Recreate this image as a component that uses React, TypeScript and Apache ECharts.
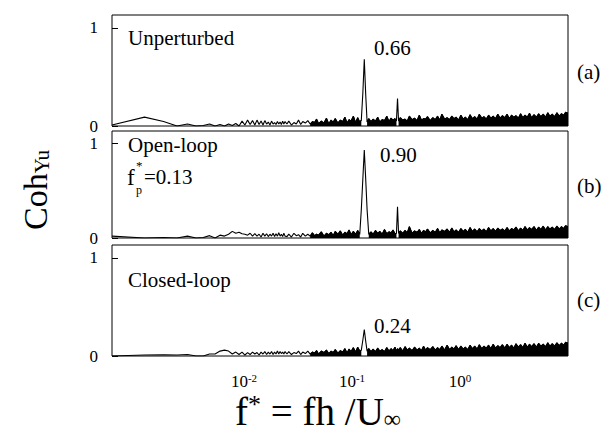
import React, { useEffect, useRef } from "react";
import * as echarts from "echarts";

// ---- frequencies (f* = fh/U) ----
const F_LO = [
  0.0006, 0.0012, 0.0018, 0.0024, 0.003, 0.0036, 0.0042, 0.0048, 0.0054, 0.006,
  0.0066, 0.0072, 0.0078, 0.0084, 0.009, 0.0096, 0.0102, 0.0108, 0.0114, 0.012,
  0.0126, 0.0132, 0.0138, 0.0144, 0.015, 0.0156, 0.0162, 0.0168, 0.0174, 0.018,
  0.0186, 0.0192, 0.0198, 0.0204, 0.021, 0.0216, 0.0222, 0.0228, 0.0234, 0.024,
];
const F_HI = [
  0.025, 0.026, 0.0275, 0.029, 0.0305, 0.032, 0.0335, 0.035, 0.037, 0.039,
  0.041, 0.043, 0.045, 0.047, 0.049, 0.052, 0.055, 0.058, 0.061, 0.064,
  0.067, 0.07, 0.074, 0.078, 0.082, 0.086, 0.09, 0.094, 0.098, 0.103,
  0.108, 0.113, 0.118, 0.122, 0.126, 0.13, 0.134, 0.138, 0.143, 0.15,
  0.157, 0.165, 0.173, 0.181, 0.19, 0.2, 0.21, 0.22, 0.23, 0.24,
  0.25, 0.258, 0.264, 0.27, 0.28, 0.295, 0.31, 0.325, 0.34, 0.36,
  0.38, 0.4, 0.42, 0.44, 0.46, 0.48, 0.5, 0.53, 0.56, 0.59,
  0.62, 0.65, 0.68, 0.72, 0.76, 0.8, 0.84, 0.88, 0.92, 0.97,
  1.02, 1.07, 1.12, 1.18, 1.24, 1.3, 1.37, 1.44, 1.51, 1.59,
  1.67, 1.75, 1.84, 1.93, 2.03, 2.13, 2.24, 2.35, 2.47, 2.6,
  2.73, 2.86, 3.0, 3.15, 3.3, 3.47, 3.64, 3.82, 4.0, 4.2,
  4.4, 4.6, 4.85, 5.1, 5.35, 5.6, 5.9, 6.2, 6.5, 6.8,
  7.15, 7.5, 7.9, 8.3, 8.7, 9.1, 9.5, 10,
];

// ---- (a) Unperturbed ----
const A_LO = [
  0.01, 0.09, 0.045, 0.0, 0.02, 0.0, 0.005, 0.02, 0.0, 0.015,
  0.0, 0.02, 0.005, 0.025, 0.0, 0.05, 0.01, 0.06, 0.015, 0.055,
  0.01, 0.06, 0.015, 0.05, 0.01, 0.055, 0.02, 0.04, 0.01, 0.05,
  0.02, 0.035, 0.015, 0.045, 0.02, 0.04, 0.015, 0.05, 0.02, 0.045,
];
const A_HI = [
  0.02, 0.05, 0.01, 0.035, 0.02, 0.06, 0.015, 0.045, 0.03, 0.055,
  0.02, 0.045, 0.035, 0.07, 0.025, 0.05, 0.03, 0.08, 0.02, 0.06,
  0.04, 0.075, 0.03, 0.06, 0.045, 0.09, 0.03, 0.065, 0.05, 0.1,
  0.035, 0.085, 0.04, 0.06, 0.33, 0.68, 0.32, 0.04, 0.075, 0.045,
  0.07, 0.05, 0.09, 0.04, 0.065, 0.055, 0.1, 0.045, 0.08, 0.06,
  0.075, 0.05, 0.28, 0.05, 0.085, 0.06, 0.07, 0.05, 0.1, 0.065,
  0.08, 0.055, 0.11, 0.06, 0.075, 0.07, 0.095, 0.055, 0.085, 0.065,
  0.1, 0.06, 0.12, 0.07, 0.085, 0.065, 0.1, 0.075, 0.09, 0.06,
  0.11, 0.07, 0.09, 0.065, 0.115, 0.075, 0.095, 0.07, 0.12, 0.08,
  0.095, 0.07, 0.11, 0.08, 0.1, 0.075, 0.12, 0.08, 0.105, 0.085,
  0.12, 0.075, 0.11, 0.09, 0.105, 0.08, 0.125, 0.085, 0.11, 0.09,
  0.13, 0.085, 0.115, 0.09, 0.125, 0.095, 0.12, 0.09, 0.135, 0.1,
  0.12, 0.095, 0.135, 0.1, 0.125, 0.11, 0.14, 0.13,
];

// ---- (b) Open-loop, f*p = 0.13 ----
const B_LO = [
  0.02, 0.0, 0.005, 0.0, 0.02, 0.0, 0.005, 0.025, 0.0, 0.03,
  0.02, 0.04, 0.07, 0.05, 0.06, 0.045, 0.04, 0.03, 0.05, 0.02,
  0.045, 0.02, 0.04, 0.01, 0.05, 0.02, 0.045, 0.015, 0.04, 0.02,
  0.05, 0.015, 0.045, 0.02, 0.055, 0.02, 0.04, 0.015, 0.05, 0.02,
];
const B_HI = [
  0.015, 0.04, 0.01, 0.05, 0.025, 0.035, 0.01, 0.05, 0.02, 0.04,
  0.02, 0.055, 0.025, 0.04, 0.03, 0.065, 0.02, 0.05, 0.035, 0.06,
  0.025, 0.07, 0.04, 0.075, 0.03, 0.06, 0.045, 0.085, 0.035, 0.07,
  0.04, 0.08, 0.04, 0.3, 0.62, 0.93, 0.62, 0.3, 0.04, 0.065,
  0.04, 0.08, 0.05, 0.07, 0.04, 0.09, 0.045, 0.065, 0.055, 0.085,
  0.045, 0.05, 0.33, 0.05, 0.075, 0.05, 0.08, 0.055, 0.12, 0.05,
  0.075, 0.06, 0.09, 0.05, 0.08, 0.065, 0.095, 0.055, 0.08, 0.06,
  0.1, 0.055, 0.085, 0.07, 0.095, 0.06, 0.105, 0.065, 0.085, 0.06,
  0.1, 0.07, 0.09, 0.06, 0.11, 0.07, 0.095, 0.065, 0.1, 0.075,
  0.095, 0.065, 0.11, 0.075, 0.1, 0.07, 0.105, 0.08, 0.095, 0.075,
  0.11, 0.075, 0.1, 0.085, 0.115, 0.075, 0.105, 0.08, 0.12, 0.085,
  0.11, 0.09, 0.12, 0.08, 0.115, 0.09, 0.125, 0.085, 0.12, 0.095,
  0.115, 0.09, 0.125, 0.095, 0.12, 0.1, 0.13, 0.12,
];

// ---- (c) Closed-loop ----
const C_LO = [
  0.0, 0.01, 0.012, 0.01, 0.015, 0.0, 0.0, 0.02, 0.02, 0.05,
  0.06, 0.05, 0.02, 0.04, 0.015, 0.04, 0.01, 0.035, 0.015, 0.04,
  0.02, 0.035, 0.01, 0.04, 0.02, 0.045, 0.015, 0.04, 0.02, 0.045,
  0.015, 0.04, 0.02, 0.05, 0.02, 0.045, 0.025, 0.04, 0.02, 0.045,
];
const C_HI = [
  0.02, 0.045, 0.015, 0.035, 0.025, 0.05, 0.015, 0.04, 0.025, 0.05,
  0.02, 0.04, 0.03, 0.055, 0.02, 0.05, 0.035, 0.06, 0.025, 0.05,
  0.035, 0.065, 0.03, 0.055, 0.04, 0.075, 0.03, 0.07, 0.045, 0.085,
  0.04, 0.09, 0.05, 0.06, 0.16, 0.27, 0.15, 0.05, 0.075, 0.045,
  0.07, 0.045, 0.08, 0.05, 0.065, 0.045, 0.085, 0.05, 0.075, 0.055,
  0.09, 0.05, 0.075, 0.06, 0.085, 0.05, 0.095, 0.06, 0.08, 0.055,
  0.09, 0.06, 0.08, 0.055, 0.1, 0.06, 0.085, 0.065, 0.095, 0.06,
  0.085, 0.065, 0.1, 0.06, 0.11, 0.065, 0.09, 0.07, 0.105, 0.065,
  0.1, 0.07, 0.09, 0.065, 0.11, 0.075, 0.1, 0.07, 0.115, 0.075,
  0.1, 0.08, 0.11, 0.075, 0.12, 0.08, 0.105, 0.085, 0.115, 0.08,
  0.12, 0.085, 0.11, 0.08, 0.125, 0.09, 0.115, 0.085, 0.13, 0.09,
  0.12, 0.095, 0.125, 0.09, 0.13, 0.1, 0.12, 0.095, 0.135, 0.1,
  0.125, 0.1, 0.135, 0.105, 0.13, 0.11, 0.14, 0.13,
];

const PANEL_NAMES = ["Unperturbed", "Open-loop", "Closed-loop"];
const PANEL_TAGS = ["(a)", "(b)", "(c)"];
const PEAK_LABELS = ["0.66", "0.90", "0.24"];
const Y_TICKS = ["0", "1"];
const X_TICK_EXPONENTS = [-2, -1, 0];

const FONT = "'Liberation Serif', 'Times New Roman', serif";
const FREQ = [...F_LO, ...F_HI];
const PANELS = [
  [...A_LO, ...A_HI],
  [...B_LO, ...B_HI],
  [...C_LO, ...C_HI],
];
const NOISE_START = 0.04;
const NOISE_CAP = 0.14;

const GRIDS = [
  { top: 15, height: 111 },
  { top: 131, height: 107 },
  { top: 245, height: 111 },
];

function txt(x: number, y: number, text: string, size: number, extra: any = {}) {
  return {
    type: "text",
    x,
    y,
    silent: true,
    style: {
      text,
      fontFamily: FONT,
      fontSize: size,
      fill: "#000",
      align: "left",
      verticalAlign: "middle",
      textAlign: "left",
      textVerticalAlign: "middle",
      ...extra,
    },
  };
}

export default function App() {
  const ref = useRef<HTMLDivElement>(null);
  useEffect(() => {
    if (!ref.current) return;
    const chart = echarts.init(ref.current, null, { renderer: "svg" });
    const grid = GRIDS.map((g) => ({
      left: 112,
      width: 456,
      top: g.top,
      height: g.height,
      show: true,
      borderColor: "#000",
      borderWidth: 1,
      backgroundColor: "transparent",
    }));
    const xAxis = GRIDS.map((_, i) => ({
      type: "log",
      logBase: 10,
      gridIndex: i,
      min: 0.0006,
      max: 10,
      axisLine: { show: false },
      axisTick: { show: false },
      splitLine: { show: false },
      minorTick: { show: false },
      axisLabel: {
        show: i === 2,
        margin: 16,
        showMinLabel: false,
        showMaxLabel: false,
        fontFamily: FONT,
        fontSize: 17,
        color: "#000",
        formatter: (v: number) => {
          const l = Math.log10(v);
          const e = Math.round(l);
          if (Math.abs(l - e) > 0.01) return "";
          if (!X_TICK_EXPONENTS.includes(e)) return "";
          return "10{s|" + e + "}";
        },
        rich: {
          s: { fontSize: 11, fontFamily: FONT, color: "#000", verticalAlign: "top", padding: [0, 0, 8, 0] },
        },
      },
    }));
    const yAxis = GRIDS.map((_, i) => ({
      type: "value",
      gridIndex: i,
      min: 0,
      max: 1.13,
      interval: 1,
      axisLine: { show: false },
      axisTick: { show: true, inside: true, length: 6, lineStyle: { color: "#000" } },
      splitLine: { show: false },
      axisLabel: {
        margin: 14,
        fontFamily: FONT,
        fontSize: 17,
        color: "#000",
        showMaxLabel: false,
        formatter: (v: number) => (Y_TICKS.includes(String(v)) ? String(v) : ""),
      },
    }));
    const series: any[] = [];
    PANELS.forEach((vals, i) => {
      series.push({
        type: "line",
        xAxisIndex: i,
        yAxisIndex: i,
        data: FREQ.map((f, k) => [f, vals[k]]),
        showSymbol: false,
        symbol: "none",
        lineStyle: { color: "#000", width: 1.1 },
        silent: true,
        z: 3,
      });
      series.push({
        type: "line",
        xAxisIndex: i,
        yAxisIndex: i,
        data: FREQ.map((f, k) =>
          f >= NOISE_START && vals[k] <= NOISE_CAP ? [f, vals[k]] : [f, null]
        ).filter((p) => p[0] >= NOISE_START),
        connectNulls: false,
        showSymbol: false,
        symbol: "none",
        lineStyle: { color: "#000", width: 1 },
        areaStyle: { color: "#000", opacity: 1, origin: "start" },
        silent: true,
        z: 2,
      });
    });

    const graphic: any[] = [
      txt(128, 38, PANEL_NAMES[0], 21),
      txt(374, 48, PEAK_LABELS[0], 21),
      txt(577, 72, PANEL_TAGS[0], 21),
      txt(128, 145, PANEL_NAMES[1], 21),
      txt(127, 177, "f", 23),
      txt(136, 165, "*", 13),
      txt(136, 190, "p", 12),
      txt(144, 177, "=0.13", 21),
      txt(380, 155, PEAK_LABELS[1], 21),
      txt(577, 186, PANEL_TAGS[1], 21),
      txt(128, 280, PANEL_NAMES[2], 21),
      txt(374, 326, PEAK_LABELS[2], 21),
      txt(577, 300, PANEL_TAGS[2], 21),
      {
        type: "text",
        x: 35,
        y: 190,
        rotation: Math.PI / 2,
        silent: true,
        style: {
          text: "Coh{s|Yu}",
          fontFamily: FONT,
          fontSize: 34,
          fill: "#000",
          align: "center",
          verticalAlign: "middle",
          textAlign: "center",
          textVerticalAlign: "middle",
          rich: {
            s: { fontSize: 21, fontFamily: FONT, fill: "#000", verticalAlign: "bottom", padding: [10, 0, 0, 0] },
          },
        },
      },
      {
        type: "text",
        x: 318,
        y: 411,
        silent: true,
        style: {
          text: "f{p|*} = fh /U{b|∞}",
          fontFamily: FONT,
          fontSize: 39,
          fill: "#000",
          align: "center",
          verticalAlign: "middle",
          textAlign: "center",
          textVerticalAlign: "middle",
          rich: {
            p: { fontSize: 26, fontFamily: FONT, fill: "#000", verticalAlign: "top", padding: [0, 0, 12, 0] },
            b: { fontSize: 24, fontFamily: FONT, fill: "#000", verticalAlign: "bottom", padding: [10, 0, 0, 0] },
          },
        },
      },
    ];

    chart.setOption({
      animation: false,
      backgroundColor: "#fff",
      grid,
      xAxis,
      yAxis,
      series,
      graphic,
    });
    return () => chart.dispose();
  }, []);
  return (
    <div
      ref={ref}
      style={{ position: "fixed", left: 0, top: 0, width: 613, height: 437 }}
    />
  );
}
